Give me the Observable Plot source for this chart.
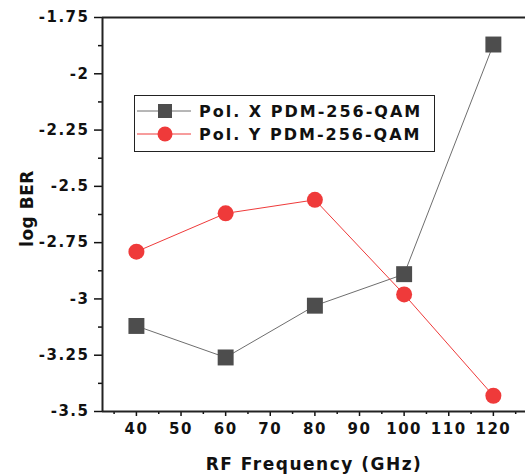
<!DOCTYPE html>
<html><head><meta charset="utf-8">
<script src="https://cdn.jsdelivr.net/npm/d3@7"></script>
<script src="https://cdn.jsdelivr.net/npm/@observablehq/plot@0.6"></script>
<style>
body{margin:0;background:#fff;}
#wrap{position:relative;width:525px;height:476px;font-family:"DejaVu Sans",sans-serif;}
#wrap svg text{letter-spacing:1.5px;}
#legend{position:absolute;left:134px;top:95px;width:301px;height:57px;border:1.5px solid #222;background:#fff;box-sizing:border-box;}
.row{position:absolute;left:2px;display:flex;align-items:center;font-weight:bold;font-size:16px;letter-spacing:2px;color:#111;height:22px;}
.row svg{margin-right:8px;}
</style></head><body>
<div id="wrap"></div>
<script>
const freqs = [40, 60, 80, 100, 120];
const polX = [-3.12, -3.26, -3.03, -2.89, -1.87];
const polY = [-2.79, -2.62, -2.56, -2.98, -3.43];
const seriesNames = ["Pol. X PDM-256-QAM", "Pol. Y PDM-256-QAM"];
const xTicks = [40, 50, 60, 70, 80, 90, 100, 110, 120];
const xMinor = [35, 45, 55, 65, 75, 85, 95, 105, 115, 125];
const yTicks = [-1.75, -2, -2.25, -2.5, -2.75, -3, -3.25, -3.5];
const yMinor = [-1.875, -2.125, -2.375, -2.625, -2.875, -3.125, -3.375];
const colX = "#4d4d4d", lineX = "#6e6e6e";
const colY = "#ef3a3a";

const dX = freqs.map((f,i)=>({f, v: polX[i]}));
const dY = freqs.map((f,i)=>({f, v: polY[i]}));
const xDom = [32.4, 127.2], yDom = [-3.5, -1.75];

const chart = Plot.plot({
  width: 525, height: 476,
  marginLeft: 102, marginTop: 17, marginBottom: 65, marginRight: 0,
  style: {fontFamily: "DejaVu Sans, sans-serif", fontWeight: "bold", fontSize: "15px", color: "#111", background: "#fff"},
  x: {domain: xDom, label: null},
  y: {domain: yDom, label: null},
  marks: [
    Plot.axisX({ticks: xMinor, tickSize: 3, tickFormat: () => "", strokeWidth: 1.5}),
    Plot.axisX({ticks: xTicks, tickSize: 5, tickPadding: 7, strokeWidth: 1.5, label: "RF Frequency (GHz)", labelArrow: "none", labelAnchor: "center", labelOffset: 58}),
    Plot.axisY({ticks: yMinor, tickSize: 4, tickFormat: () => "", strokeWidth: 1.5}),
    Plot.axisY({ticks: yTicks, tickSize: 8, tickPadding: 5, strokeWidth: 1.5, tickFormat: d => String(d), label: "log BER", labelArrow: "none", labelAnchor: "center", labelOffset: 82}),
    Plot.ruleX([xDom[0]], {stroke: "#222", strokeWidth: 2}),
    Plot.ruleY([yDom[0]], {stroke: "#222", strokeWidth: 2}),
    Plot.ruleY([yDom[1]], {stroke: "#222", strokeWidth: 2}),
    Plot.line(dX, {x: "f", y: "v", stroke: lineX, strokeWidth: 1}),
    Plot.line(dY, {x: "f", y: "v", stroke: colY, strokeWidth: 1}),
    Plot.dot(dX, {x: "f", y: "v", symbol: "square", r: 9, fill: colX, stroke: "none"}),
    Plot.dot(dY, {x: "f", y: "v", symbol: "circle", r: 8, fill: colY, stroke: "none"})
  ]
});
const wrap = document.getElementById("wrap");
wrap.appendChild(chart);
d3.select(chart).selectAll('g[aria-label="x-axis label"] text').style("font-size","17px");
d3.select(chart).selectAll('g[aria-label="y-axis label"] text').style("font-size","17px").style("letter-spacing","0.5px").attr("dx", "0.35em");

const leg = document.createElement("div");
leg.id = "legend";
const sym = [
  `<svg width="54" height="20"><line x1="0" y1="10" x2="54" y2="10" stroke="${lineX}" stroke-width="1"/><rect x="21" y="3" width="14" height="14" fill="${colX}"/></svg>`,
  `<svg width="54" height="20"><line x1="0" y1="10" x2="54" y2="10" stroke="${colY}" stroke-width="1"/><circle cx="28" cy="10" r="7.5" fill="${colY}"/></svg>`
];
seriesNames.forEach((n,i)=>{
  const r = document.createElement("div");
  r.className = "row";
  r.style.top = (i===0 ? 4 : 27) + "px";
  r.innerHTML = sym[i] + `<span>${n}</span>`;
  leg.appendChild(r);
});
wrap.appendChild(leg);
</script>
</body></html>
